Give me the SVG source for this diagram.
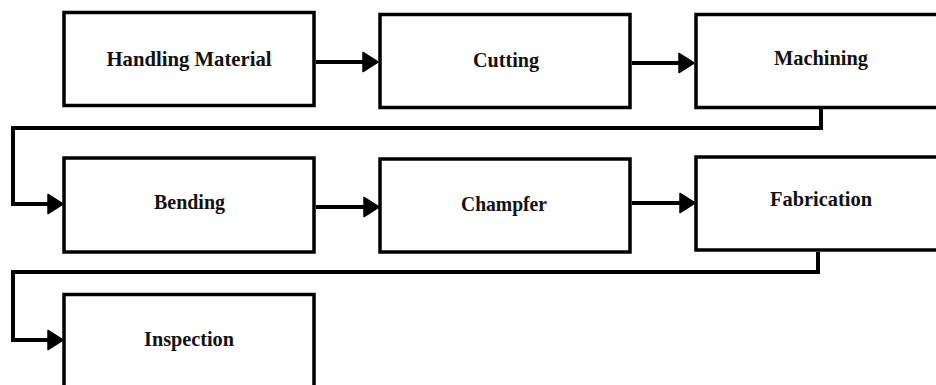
<svg xmlns="http://www.w3.org/2000/svg" width="936" height="385" viewBox="0 0 936 385">
  <style>
    .box { fill: #ffffff; stroke: #000000; stroke-width: 3.5; }
    .label { font-family: "Liberation Serif", "Times New Roman", serif; font-weight: bold; font-size: 21.5px; fill: #111111; text-anchor: middle; }
    .conn { fill: none; stroke: #000000; stroke-width: 4; stroke-linejoin: miter; }
  </style>
  <defs>
    <marker id="head" markerUnits="userSpaceOnUse" markerWidth="18" markerHeight="20" refX="0" refY="9.5" orient="auto" overflow="visible">
      <path d="M0,0 L15,9.5 L0,19 Z" fill="#000000" stroke="#000000" stroke-width="1.5" stroke-linejoin="round"/>
    </marker>
  </defs>
  <rect width="936" height="385" fill="#ffffff"/>

  <!-- process steps -->
  <g id="handling-material">
    <rect class="box" x="64" y="12.5" width="250" height="93"/>
    <text class="label" x="189" y="65.7" textLength="165" lengthAdjust="spacingAndGlyphs">Handling Material</text>
  </g>
  <g id="cutting">
    <rect class="box" x="380" y="14.5" width="250" height="93"/>
    <text class="label" x="506" y="66.5" textLength="66" lengthAdjust="spacingAndGlyphs">Cutting</text>
  </g>
  <g id="machining">
    <rect class="box" x="696" y="14.5" width="250" height="93"/>
    <text class="label" x="821" y="65" textLength="94" lengthAdjust="spacingAndGlyphs">Machining</text>
  </g>
  <g id="bending">
    <rect class="box" x="64" y="158" width="250" height="94"/>
    <text class="label" x="189.5" y="209" textLength="71" lengthAdjust="spacingAndGlyphs">Bending</text>
  </g>
  <g id="champfer">
    <rect class="box" x="380" y="159" width="250" height="93"/>
    <text class="label" x="504" y="210.5" textLength="86" lengthAdjust="spacingAndGlyphs">Champfer</text>
  </g>
  <g id="fabrication">
    <rect class="box" x="696" y="157" width="250" height="93"/>
    <text class="label" x="821" y="206" textLength="102" lengthAdjust="spacingAndGlyphs">Fabrication</text>
  </g>
  <g id="inspection">
    <rect class="box" x="64" y="294.5" width="250" height="100"/>
    <text class="label" x="189" y="346" textLength="90" lengthAdjust="spacingAndGlyphs">Inspection</text>
  </g>

  <!-- flow connectors -->
  <g id="connectors">
    <path class="conn" d="M316,62 H363" marker-end="url(#head)"/>
    <path class="conn" d="M632,63 H679" marker-end="url(#head)"/>
    <path class="conn" d="M821,109 V128 H13 V204 H48" marker-end="url(#head)"/>
    <path class="conn" d="M316,207 H364" marker-end="url(#head)"/>
    <path class="conn" d="M632,203 H680" marker-end="url(#head)"/>
    <path class="conn" d="M818,252 V272 H13 V340 H48" marker-end="url(#head)"/>
  </g>
</svg>
